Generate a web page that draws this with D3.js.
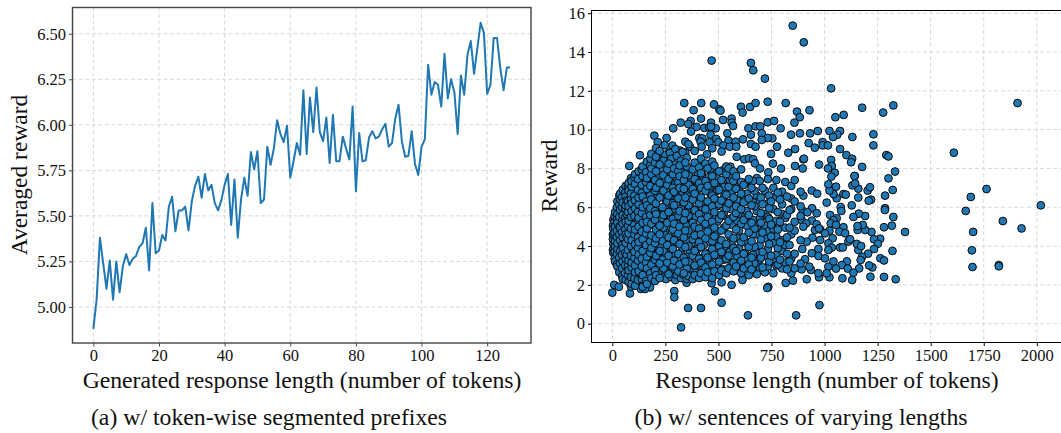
<!DOCTYPE html>
<html>
<head>
<meta charset="utf-8">
<script src="https://cdn.jsdelivr.net/npm/d3@7"></script>
<style>
  html, body { margin: 0; padding: 0; background: #fff; }
  svg { display: block; }
  text { font-family: "Liberation Serif", serif; fill: #111; }
</style>
</head>
<body>
<svg id="chart" width="1061" height="433"></svg>
<script>
// panel (a): averaged reward per generated token count
const avgReward = [
  4.88,5.04,5.38,5.24,5.10,5.255,5.04,5.25,5.08,5.225,5.29,5.23,5.265,5.28,5.33,5.35,
  5.435,5.20,5.57,5.295,5.31,5.395,5.365,5.55,5.605,5.415,5.53,5.53,5.55,5.42,5.58,5.665,
  5.715,5.60,5.73,5.64,5.67,5.57,5.53,5.585,5.67,5.73,5.45,5.70,5.38,5.59,5.71,5.61,
  5.85,5.755,5.855,5.57,5.59,5.88,5.78,5.87,6.025,5.95,5.905,5.995,5.71,5.80,5.90,5.835,
  6.19,5.84,6.15,5.96,6.205,5.96,5.91,6.04,5.79,6.055,5.80,5.80,5.935,5.87,5.81,6.10,
  5.635,5.955,5.80,5.805,5.93,5.965,5.925,5.935,5.975,6.005,5.88,5.90,6.035,6.11,5.91,5.825,
  5.83,5.965,5.785,5.725,5.88,5.92,6.33,6.165,6.235,6.22,6.10,6.39,6.145,6.25,6.18,5.95,
  6.27,6.165,6.385,6.46,6.28,6.42,6.56,6.505,6.17,6.22,6.477,6.477,6.31,6.19,6.315,6.315
];
const tokenTicks = [0, 20, 40, 60, 80, 100, 120];
const avgTicks = [5.0, 5.25, 5.5, 5.75, 6.0, 6.25, 6.5];

// panel (b): dense part, read column by column
const lengthColumns = [
  3,5,11,13,22,24,33,37,46,49,61,63,74,77,88,91,104,107,121,124,
  139,143,159,163,179,184,201,206,223,229,247,253,271,278,297,304,323,331,351,359,
  379,388,409,418,439,449,471,481,503,514,537,548,571,583,607,619,643,656,681,694,
  719,733,759,773,800,815,843,859,887,
  // second pass through the mass
  68,96,115,131,151,171,192,214,236,241,259,265,285,291,311,317,337,344,366,373,
  394,402,424,431,455,462,488,494,520,527,554,562,589,597,625,633,662,670,700,708,
  739,748,780,790,823,835
];
const rewardColumns = [
  [3.8,4.35,4.6,5.05],
  [3.65,4.1,4.9,5.35],
  [3.35,3.7,4.55,4.7,5.25,5.55],
  [3.2,4.0,4.25,5.0,5.75],
  [3.05,3.6,4.45,4.8,5.4,6.0],
  [2.95,3.85,4.15,5.2,5.65,6.3],
  [2.65,3.4,4.6,5.0,5.5,6.15,6.6],
  [3.1,3.75,4.3,4.95,5.85,6.4,6.7],
  [2.45,2.85,3.55,4.05,4.7,5.3,6.0,6.5],
  [2.3,3.2,3.9,4.45,5.15,5.6,6.25,6.9],
  [2.6,3.0,3.65,4.85,5.45,5.95,6.75],
  [2.25,3.35,4.15,4.6,5.25,6.1,6.55,7.1],
  [2.5,2.95,3.8,4.35,5.05,5.75,6.3,7.0],
  [2.15,2.75,3.25,4.65,5.3,6.05,6.85,7.25],
  [2.4,3.5,4.0,4.9,5.5,6.4,6.7,7.5],
  [2.05,2.9,3.15,4.3,5.8,6.2,7.05,7.35],
  [2.35,3.4,3.7,4.6,5.1,5.55,6.6,7.55],
  [1.95,2.65,3.0,4.1,4.85,5.95,6.35,7.2,7.7],
  [2.25,3.25,3.9,4.45,5.35,5.75,6.9,7.45],
  [2.7,3.55,4.2,5.0,5.45,6.15,6.5,7.85],
  [2.3,2.95,3.35,4.75,5.7,6.75,7.15,7.95],
  [1.9,2.5,3.75,4.35,5.2,6.0,6.55,7.6,8.1],
  [2.2,3.15,4.05,4.65,5.5,6.3,7.3,7.8],
  [2.05,2.85,3.45,4.9,5.25,6.1,6.95,7.5,8.35],
  [2.6,3.65,4.25,5.6,5.95,6.6,7.1,8.15,8.5],
  [2.35,3.05,3.9,4.55,5.15,6.4,7.7,8.0,8.75],
  [2.2,2.75,3.3,4.15,5.35,5.8,6.85,7.4,8.3],
  [2.5,3.5,4.4,4.85,5.65,6.2,7.0,7.85,8.6,9.05],
  [2.35,3.1,3.75,4.6,5.05,6.5,7.25,8.2,8.9],
  [2.65,3.35,4.0,5.3,5.85,6.7,7.55,8.45],
  [2.4,2.95,4.3,4.75,5.55,6.05,7.1,7.9,8.7,9.2],
  [2.3,3.2,3.6,4.55,5.2,6.35,6.9,7.6,8.35],
  [2.6,3.45,4.1,5.0,5.75,6.55,7.35,8.05,8.8],
  [2.4,3.0,3.85,4.4,5.45,6.15,7.75,8.5],
  [2.25,2.8,3.55,4.7,5.1,5.9,6.75,7.2,8.2,9.0],
  [2.5,3.3,4.2,4.95,5.6,6.45,7.5,8.65],
  [2.35,3.65,4.5,5.25,5.95,7.05,7.85,8.4],
  [2.55,3.1,3.9,4.65,5.4,6.25,6.8,7.3,8.85],
  [2.3,2.85,3.45,4.3,5.05,5.75,6.6,8.1,8.55],
  [2.45,3.2,4.0,4.8,5.55,6.1,7.15,7.65,9.25],
  [2.3,3.5,4.35,5.2,6.4,6.95,7.95],
  [2.5,3.0,3.75,4.55,5.0,5.85,6.7,7.45,8.3,8.9],
  [2.35,3.35,4.2,4.9,5.65,6.2,7.25,8.05],
  [2.6,3.15,3.95,4.6,5.35,6.5,7.0,7.75,8.5],
  [2.4,2.9,3.6,4.4,5.15,5.9,6.85,7.35,8.25],
  [2.65,3.4,4.75,5.5,6.3,7.1,8.0],
  [2.35,3.05,3.85,4.25,5.25,6.05,6.6,7.6,8.35],
  [2.7,3.55,4.5,4.95,5.75,6.45,7.25,8.15],
  [2.5,3.2,4.0,5.4,6.15,6.9,7.85],
  [2.75,3.7,4.3,4.8,5.6,6.35,7.4],
  [2.6,3.35,4.1,5.05,5.95,6.65,7.7,8.1],
  [2.85,3.5,4.6,5.3,6.2,7.05,8.0],
  [2.7,3.15,3.9,4.4,5.5,6.5,7.35,7.85],
  [2.95,3.75,4.85,5.7,6.05,6.95,7.6],
  [2.6,3.25,4.2,5.15,5.9,6.7,7.3,7.95],
  [2.85,3.6,4.45,5.35,6.25,7.15],
  [2.5,3.05,3.95,4.7,5.6,6.45,7.45],
  [2.8,3.4,4.25,5.2,6.1,7.0],
  [2.55,3.65,4.6,5.0,5.8,6.6,7.5],
  [2.9,3.3,4.05,5.4,6.35,7.35],
  [2.65,3.5,4.4,5.05,5.65,6.85],
  [2.95,3.85,4.75,5.5,6.2,7.45],
  [2.6,3.2,4.15,4.9,5.9,7.0],
  [3.0,3.55,4.5,5.3,6.55,7.4],
  [2.85,3.75,4.3,5.65,6.15,6.8],
  [3.15,4.05,4.95,5.45,7.3],
  [2.6,3.35,4.6,5.9,6.45,7.1],
  [2.85,3.6,4.8,5.25,6.3,7.4],
  [3.1,4.3,5.55,6.05,6.8],
  [3.55,4.45,5.65,6.35],
  [2.7,3.85,5.25,6.05,6.95],
  [3.05,4.2,5.0,5.85,6.6,7.3],
  [2.55,3.6,4.9,5.55,6.3,7.6],
  [3.2,4.05,5.3,6.2,7.05,7.75],
  [2.75,3.45,4.5,5.75,6.75,7.4],
  [3.0,3.95,5.1,5.5,6.45,7.2,8.05],
  [2.6,3.6,4.7,5.9,6.65,7.55,8.1],
  [3.3,4.25,5.45,6.0,7.3,7.9],
  [2.85,3.75,4.95,5.6,6.85,7.65,8.4],
  [3.15,4.05,5.2,6.3,7.15,7.95],
  [2.55,3.5,4.45,5.75,6.6,7.45,8.25],
  [2.95,3.85,4.85,5.4,6.2,7.0,7.7],
  [3.25,4.3,5.15,6.1,6.8,8.0],
  [2.7,3.6,4.65,5.55,6.45,7.3,7.85],
  [3.05,4.1,5.0,5.8,7.0,7.6,8.15],
  [2.6,3.4,4.45,5.35,6.25,6.95,7.4],
  [3.2,3.95,4.8,5.7,6.5,7.7,8.3],
  [2.85,3.7,4.6,5.3,6.1,7.2,7.95],
  [3.1,4.15,5.15,5.95,6.85,7.5],
  [2.65,3.55,4.4,5.5,6.4,7.35,8.05],
  [3.0,3.85,4.9,5.8,6.6,7.1,7.8],
  [2.75,3.4,4.25,5.35,6.0,7.0,7.65],
  [3.25,4.05,5.05,5.6,6.3,7.45,8.2],
  [2.9,3.65,4.55,5.2,6.15,6.9,7.55],
  [3.15,4.2,4.85,5.85,6.7,7.3,7.95],
  [2.65,3.5,4.35,5.45,6.4,7.15,7.7],
  [3.05,3.85,4.7,5.25,6.05,6.85,7.5],
  [2.8,3.6,4.15,5.55,6.3,7.25,7.9],
  [3.3,3.95,4.95,5.75,6.55,7.05],
  [2.9,3.7,4.5,5.4,6.2,7.4],
  [3.15,4.1,5.1,5.9,6.75,7.55],
  [2.75,3.45,4.4,5.3,6.35,7.2],
  [3.05,3.9,4.8,5.65,6.0,6.95],
  [2.95,3.65,4.25,5.5,6.5,7.25],
  [3.35,4.15,5.05,5.8,6.7],
  [2.85,3.55,4.6,5.35,6.25,7.35],
  [3.1,3.95,4.9,6.05,6.85],
  [3.4,4.35,5.2,5.7,6.5],
  [2.9,3.7,4.7,6.15,7.0],
  [3.2,4.1,5.4,5.95,6.6],
  [3.5,4.5,5.1,6.3],
  [3.05,3.9,4.85,5.75,6.75],
  [3.3,4.2,5.25,6.4],
  [2.8,3.6,4.45,5.6,6.55],
  [3.2,4.05,4.95,5.85]
];

// panel (b): points that stand clear of the mass
const looseLengths = [
  850,902,468,653,664,719,339,419,479,383,504,510,606,649,675,732,817,870,883,614,
  418,522,562,322,369,358,465,562,569,287,397,434,456,487,371,465,641,675,697,732,
  762,793,858,842,884,704,653,542,198,256,410,424,463,490,616,754,732,704,214,344,
  416,458,500,547,581,653,776,861,283,366,421,471,523,553,584,675,319,344,130,272,
  214,446,267,515,586,748,829,622,644,664,672,757,861,80,795,897,696,735,179,556,900,
  1031,1324,1177,1276,1909,929,1090,1051,932,968,1023,1073,1060,1040,1131,1230,1230,925,954,991,991,
  1016,1073,1103,1291,1301,1609,1130,1125,903,1031,1034,974,1016,1177,1332,1048,1032,1142,1301,
  1763,1689,2019,1665,1840,1928,1700,1694,1697,1821,1821,1379,1335,1280,1216,1130,1084,1023,974,916,
  976,1320,1263,1280,1225,1210,1163,1262,1233,1251,1233,1205,1177,1170,1159,1152,1172,1112,1120,1221,
  1191,1180,1156,1155,1317,1280,1324,1191,1161,1136,1285,1284,1128,1076,1079,1010,1057,1089,1100,1042,
  1023,1054,1018,940,965,900,1159,1159,1131,1144,1141,1203,1214,1285,1321,1219,1208,1026,1057,1042,
  1029,1054,1089,1070,1097,979,955,1023,1038,1002,943,916,979,1018,1073,1086,1034,1018,971,895,
  940,971,1002,908,1018,1042,1105,1081,1054,1109,936,892,928,1010,971,1136,941,897,963,919,
  940,892,913,900,963,974,
  0,83,9,31,292,292,324,357,418,515,639,866,562,484,735,730,817,851,613,350,178,135,154,88,468,515
];
const looseRewards = [
  15.36,14.5,13.56,13.44,13.06,12.63,11.37,11.37,11.3,11.0,11.05,10.98,11.18,11.17,11.37,11.44,11.37,10.93,10.64,10.88,
  10.57,10.5,10.57,10.36,10.45,10.29,10.36,10.36,10.19,10.07,10.14,10.09,10.12,10.07,9.9,10.15,10.07,10.17,10.17,10.38,
  10.45,10.07,10.36,9.74,9.81,9.81,9.74,9.81,9.69,9.57,9.57,9.55,9.74,9.52,9.5,9.55,9.57,9.47,9.36,9.38,
  9.38,9.35,9.35,9.43,9.38,9.26,9.12,9.0,9.18,9.12,9.12,9.04,9.18,9.12,9.12,9.12,8.92,8.81,8.68,8.81,
  8.73,8.73,8.81,8.87,8.6,8.75,8.81,8.47,8.52,8.47,8.26,8.25,8.13,8.13,8.0,8.0,8.0,7.8,8.32,8.09,8.47,
  12.13,11.25,11.13,10.88,11.37,11.0,10.76,10.64,9.81,9.93,9.93,9.93,9.74,9.62,9.62,9.76,9.19,9.31,9.07,9.36,9.19,
  9.19,9.0,8.69,8.69,8.62,8.81,8.5,8.32,8.5,8.44,8.13,8.2,8.0,8.08,7.84,7.78,7.58,7.61,7.49,
  6.94,6.53,6.1,5.81,5.29,4.91,4.73,3.78,2.92,3.02,2.96,4.73,2.29,2.41,2.42,2.25,2.34,2.39,2.39,2.29,
  0.96,3.75,3.37,3.26,2.9,3.0,2.85,4.38,4.35,4.12,3.85,3.61,3.45,3.28,3.8,4.11,4.0,4.23,4.35,4.73,
  4.83,5.09,4.83,5.03,5.05,4.97,5.5,5.55,5.67,5.5,5.95,5.86,6.1,6.01,5.81,6.24,6.46,6.68,6.65,6.68,
  6.86,7.06,7.18,6.86,6.7,6.6,6.5,6.96,7.13,7.23,7.61,6.86,7.03,6.6,6.89,6.39,6.34,5.6,5.43,5.34,
  5.17,5.09,4.97,4.74,4.66,4.86,4.83,4.79,4.4,4.66,4.43,4.23,4.31,4.14,3.93,3.93,3.92,3.8,3.85,3.85,
  3.63,3.49,3.37,3.32,2.94,3.21,3.21,3.02,2.84,2.84,2.77,2.8,2.94,2.6,2.6,2.63,5.95,5.82,5.69,5.74,
  5.31,5.34,5.17,5.0,5.12,4.91,
  1.6,1.56,2.0,1.9,1.68,1.36,-0.19,0.81,0.81,1.08,0.43,0.43,2.0,1.67,1.9,1.84,2.1,2.22,2.25,2.11,1.87,1.79,1.79,1.91,2.08,2.13
];
const lengthTicks = [0, 250, 500, 750, 1000, 1250, 1500, 1750, 2000];
const rewardTicks = [0, 2, 4, 6, 8, 10, 12, 14, 16];

const svg = d3.select('#chart');

// pulled off the picture, pixels
const boxA = { left: 72.5, right: 531, top: 7.5, bottom: 343 };
const boxB = { left: 591.5, right: 1064, top: 10.5, bottom: 342.5 };

const xA = d3.scaleLinear().domain([-6.35, 133.35]).range([boxA.left, boxA.right]);
const yA = d3.scaleLinear().domain([4.802, 6.644]).range([boxA.bottom, boxA.top]);
const xB = d3.scaleLinear().domain([-98, 2128]).range([boxB.left, boxB.right]);
const yB = d3.scaleLinear().domain([-0.97, 16.14]).range([boxB.bottom, boxB.top]);

function drawFrame(box, x, y, xTicks, yTicks, yFormat, spineColor) {
  const g = svg.append('g');

  g.append('g').selectAll('line').data(xTicks).join('line')
      .attr('x1', d => x(d)).attr('x2', d => x(d))
      .attr('y1', box.top).attr('y2', box.bottom);
  g.append('g').selectAll('line').data(yTicks).join('line')
      .attr('x1', box.left).attr('x2', box.right)
      .attr('y1', d => y(d)).attr('y2', d => y(d));
  g.selectAll('line')
      .attr('stroke', '#d9d9d9')
      .attr('stroke-width', 1)
      .attr('stroke-dasharray', '4,2.5');

  const xAxis = svg.append('g')
      .attr('transform', `translate(0,${box.bottom})`)
      .call(d3.axisBottom(x).tickValues(xTicks).tickSize(3.5).tickPadding(3).tickFormat(d3.format('d')));
  const yAxis = svg.append('g')
      .attr('transform', `translate(${box.left},0)`)
      .call(d3.axisLeft(y).tickValues(yTicks).tickSize(3.5).tickPadding(3).tickFormat(yFormat));
  [xAxis, yAxis].forEach(a => {
    a.select('.domain').remove();
    a.selectAll('line').attr('stroke', spineColor);
    a.selectAll('text').attr('font-size', 16.5).attr('fill', '#111');
    a.attr('font-family', null);
  });
}

function drawSpines(box, color, width) {
  svg.append('rect')
      .attr('x', box.left).attr('y', box.top)
      .attr('width', box.right - box.left).attr('height', box.bottom - box.top)
      .attr('fill', 'none').attr('stroke', color).attr('stroke-width', width);
}

function label(text, x, y, size, rotate) {
  svg.append('text')
      .attr('text-anchor', 'middle')
      .attr('font-size', size)
      .attr('transform', `translate(${x},${y})` + (rotate ? ' rotate(-90)' : ''))
      .text(text);
}

// panel (a)
drawFrame(boxA, xA, yA, tokenTicks, avgTicks, d3.format('.2f'), '#444');
svg.append('path')
    .datum(avgReward)
    .attr('fill', 'none')
    .attr('stroke', '#1f77b4')
    .attr('stroke-width', 2)
    .attr('stroke-linejoin', 'round')
    .attr('d', d3.line().x((d, i) => xA(i)).y(d => yA(d)));
drawSpines(boxA, '#444', 1.4);

// panel (b)
drawFrame(boxB, xB, yB, lengthTicks, rewardTicks, d3.format('d'), '#000');
// columns are stepped through out of order so overlaps do not all lean one way
const columnOrder = lengthColumns.map((_, i) => (i * 29) % lengthColumns.length);
const densePoints = columnOrder.flatMap(c => rewardColumns[c].map(r => [lengthColumns[c], r]));
const loosePoints = looseLengths.map((len, i) => [len, looseRewards[i]]);
svg.append('g').selectAll('circle')
    .data(loosePoints.concat(densePoints))
    .join('circle')
      .attr('cx', d => xB(d[0]))
      .attr('cy', d => yB(d[1]))
      .attr('r', 3.9)
      .attr('fill', '#1f77b4')
      .attr('stroke', '#0a0a0a')
      .attr('stroke-width', 1);
drawSpines(boxB, '#000', 1);

label('Averaged reward', 27, 175, 23.5, true);
label('Reward', 557, 176, 23.5, true);
label('Generated response length (number of tokens)', 302, 388, 23.7);
label('Response length (number of tokens)', 827, 388, 23.7);
label('(a) w/ token-wise segmented prefixes', 269, 425, 23.75);
label('(b) w/ sentences of varying lengths', 801, 425, 23.75);
</script>
</body>
</html>
